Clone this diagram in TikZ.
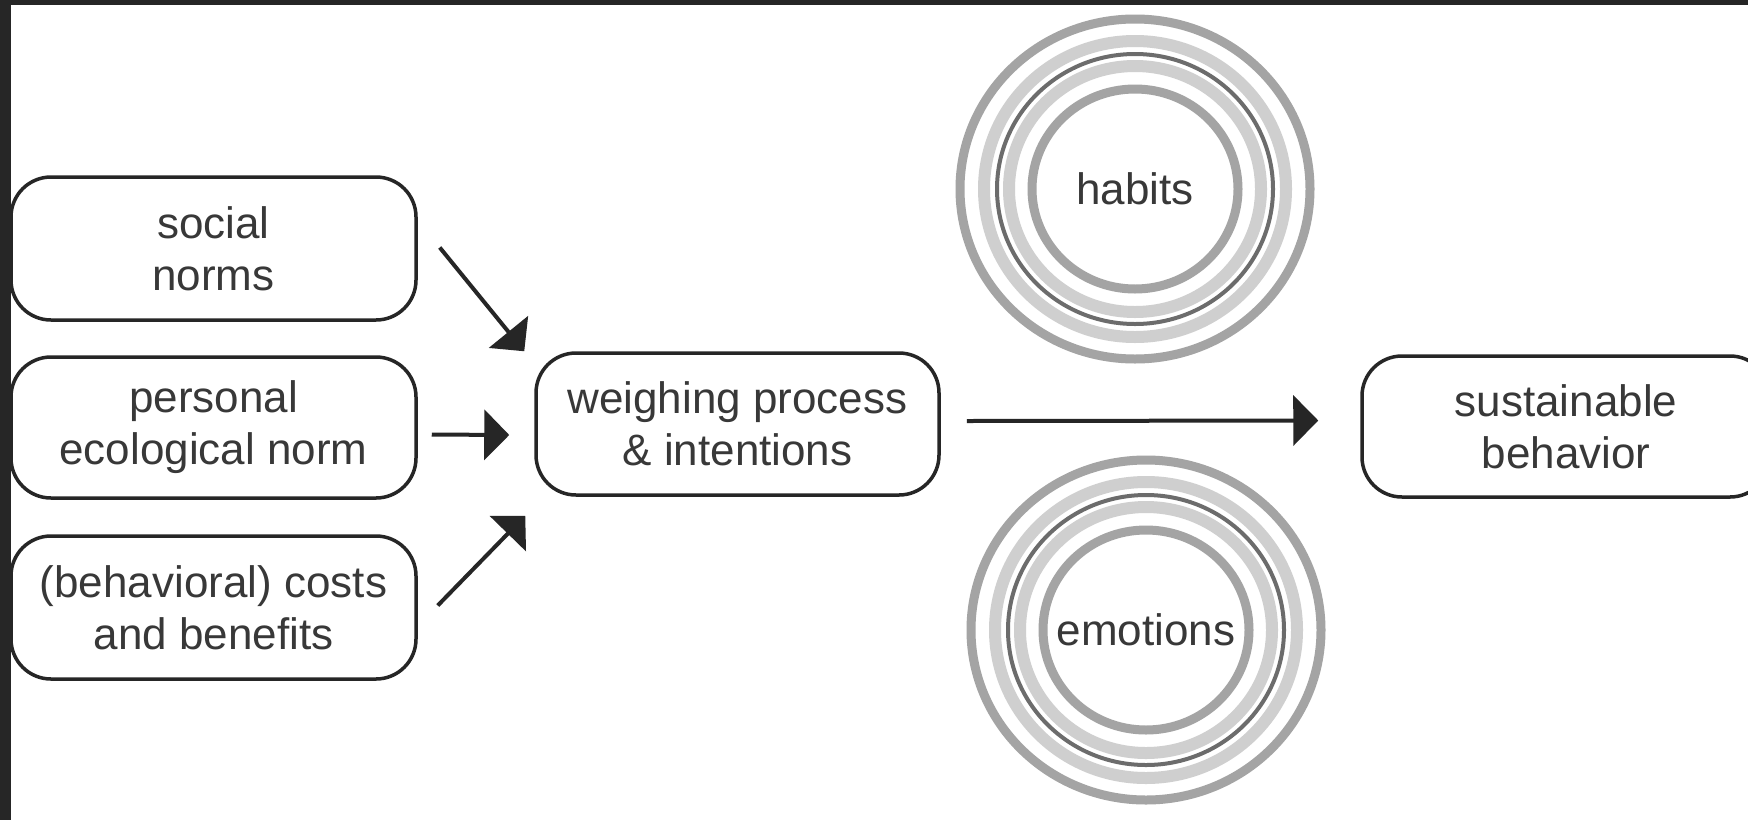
\documentclass[tikz,border=0pt]{standalone}
\usepackage{fontspec}
\setmainfont{Liberation Sans}
\usetikzlibrary{arrows.meta,calc}
\definecolor{framecol}{HTML}{262626}
\definecolor{txtcol}{HTML}{383838}
\definecolor{ringmid}{HTML}{A4A4A4}
\definecolor{ringlight}{HTML}{CFCFCF}
\definecolor{ringdark}{HTML}{6C6C6C}
\tikzset{
  box/.style={draw=framecol, line width=3.5pt, rounded corners=40pt, align=center,
    text=txtcol, inner sep=0pt, font=\fontsize{44}{52}\selectfont},
  ringtext/.style={text=txtcol, inner sep=0pt, font=\fontsize{44}{52}\selectfont},
  arr/.style={draw=framecol, line width=4pt, -{Triangle[length=25pt,width=50pt]}},
  rmid/.style={draw=ringmid, line width=9pt},
  rlight/.style={draw=ringlight, line width=12pt},
  rdark/.style={draw=ringdark, line width=4pt},
  rinner/.style={draw=ringmid, line width=9pt}
}
\begin{document}
\begin{tikzpicture}[x=1pt,y=-1pt]
\clip (0,0) rectangle (1748,820);
\fill[white] (0,0) rectangle (1748,820);
\fill[framecol] (0,0) rectangle (1748,5);
\fill[framecol] (0,0) rectangle (11,820);

% boxes
\node[box, minimum width=405pt, minimum height=143pt] (sn) at (213.5,248.5) {social\\norms};
\node[box, minimum width=405pt, minimum height=141pt] (pn) at (213.5,427.5) {personal\\ecological norm};
\node[box, minimum width=405pt, minimum height=143pt] (bn) at (213.5,607.5) {(behavioral) costs\\and benefits};
\node[box, minimum width=403pt, minimum height=142pt] (w) at (737.5,424) {weighing process\\\& intentions};
\node[box, minimum width=408pt, minimum height=141pt] (s) at (1566,426.5) {sustainable\\behavior};

% rings
\node[ringtext] (h) at (1135,189) {habits};
\node[ringtext] (e) at (1146,630) {emotions};
\foreach \c in {h,e}{
  \draw[rmid]   (\c.center) ellipse [x radius=175pt, y radius=170pt];
  \draw[rlight] (\c.center) ellipse [x radius=151pt, y radius=148pt];
  \draw[rdark]  (\c.center) ellipse [x radius=138pt, y radius=135pt];
  \draw[rlight] (\c.center) ellipse [x radius=126pt, y radius=123pt];
  \draw[rinner] (\c.center) ellipse [x radius=103pt, y radius=100pt];
}

% arrows
\draw[arr] ($(sn.east)+(22,-1)$) -- ($(w.north west)+(-10,0)$);
\draw[arr] ($(pn.east)+(14,7)$) -- ($(w.west)+(-25,11)$);
\draw[arr] ($(bn.east)+(20,-2)$) -- ($(w.south west)+(-9,19)$);
\draw[arr] ($(w.east)+(26,-3)$) -- ($(s.west)+(-42,-6)$);
\end{tikzpicture}
\end{document}
